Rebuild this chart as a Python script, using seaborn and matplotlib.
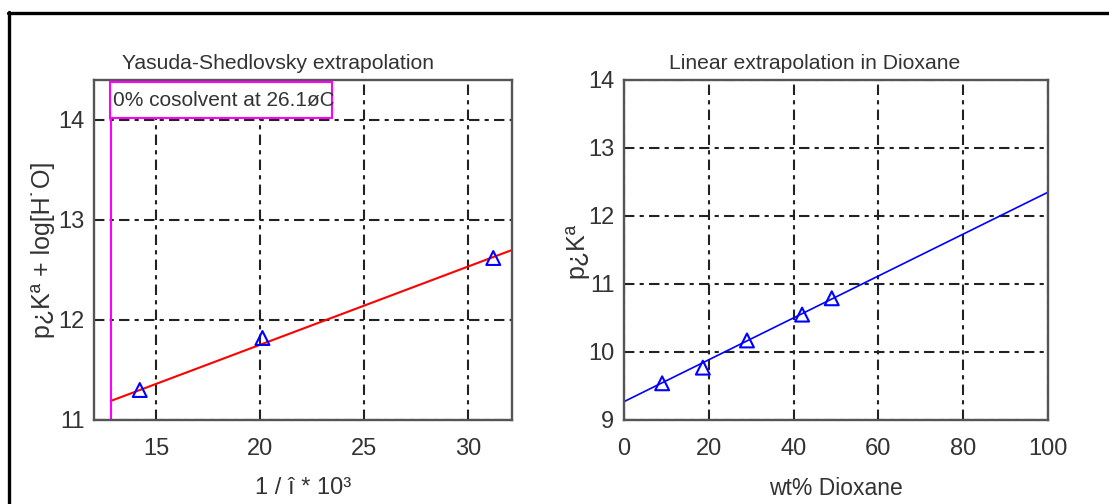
import numpy as np
import pandas as pd
import seaborn as sns
import matplotlib.pyplot as plt
from matplotlib.lines import Line2D
from matplotlib.patches import Rectangle

# data
ys_x = [14.2, 20.1, 31.2]
ys_y = [11.30, 11.82, 12.62]
ys_fit_x = [12.8, 32.1]
ys_fit_y = [11.19, 12.70]
water_inv_eps = 12.8

dx_x = [9.0, 18.6, 29.0, 42.0, 49.0]
dx_y = [9.54, 9.77, 10.17, 10.55, 10.79]
dx_fit_x = [0, 100]
dx_fit_y = [9.27, 12.35]

sns.set_style("white")
plt.rcParams['font.family'] = ['Liberation Sans', 'DejaVu Sans']
txt = "#333333"

fig = plt.figure(figsize=(11.09, 5.04), dpi=100)
ax1 = fig.add_axes([94/1109, 1-420/504, 418/1109, 340/504])
ax2 = fig.add_axes([624/1109, 1-420/504, 424/1109, 340/504])

grid_ls = (0, (5, 2.5, 2, 2.5))

def style(ax):
    for s in ax.spines.values():
        s.set_color("#555555")
        s.set_linewidth(1.7)
    ax.tick_params(direction="out", length=6, width=1.4, color="#444444",
                   labelsize=17, labelcolor=txt)
    ax.tick_params(axis="x", pad=7)
    ax.tick_params(axis="y", pad=1)
    ax.grid(True, color="#222222", linestyle=grid_ls, linewidth=1.5)
    ax.set_axisbelow(True)

# ---- left: Yasuda-Shedlovsky
sns.lineplot(x=ys_fit_x, y=ys_fit_y, ax=ax1, color="red", linewidth=1.5)
sns.scatterplot(x=ys_x, y=ys_y, ax=ax1, marker="^", s=100, facecolor="none",
                edgecolor="blue", linewidth=1.5, zorder=3)
ax1.axvline(water_inv_eps, color="magenta", linewidth=1.5)
ax1.set_xlim(12, 32.1)
ax1.set_ylim(11, 14.4)
ax1.set_xticks([15, 20, 25, 30])
ax1.set_yticks([11, 12, 13, 14])
style(ax1)
ax1.set_title("Yasuda-Shedlovsky extrapolation", x=0.44, fontsize=15.2, color=txt, pad=8)
ax1.set_xlabel("1 / î * 10³", fontsize=17, color=txt, labelpad=12)
ax1.set_ylabel("p¿Kª + log[H˙O]", fontsize=18, color=txt, labelpad=2)
# label box
ax1.add_patch(Rectangle((16/418, 302/340), 222/418, 36/340, transform=ax1.transAxes,
                        fc="white", ec="magenta", lw=1.5, zorder=4))
ax1.text(19/418, 320/340, "0% cosolvent at 26.1øC", transform=ax1.transAxes,
         fontsize=15, color=txt, va="center", ha="left", zorder=5)

# ---- right: linear extrapolation
sns.lineplot(x=dx_fit_x, y=dx_fit_y, ax=ax2, color="blue", linewidth=1.2)
sns.scatterplot(x=dx_x, y=dx_y, ax=ax2, marker="^", s=100, facecolor="none",
                edgecolor="blue", linewidth=1.5, zorder=3)
ax2.set_xlim(0, 100)
ax2.set_ylim(9, 14)
ax2.set_xticks([0, 20, 40, 60, 80, 100])
ax2.set_yticks([9, 10, 11, 12, 13, 14])
style(ax2)
ax2.set_title("Linear extrapolation in Dioxane", x=0.45, fontsize=15.2, color=txt, pad=8)
ax2.set_xlabel("wt% Dioxane", fontsize=16.5, color=txt, labelpad=12)
ax2.set_ylabel("p¿Kª", fontsize=18, color=txt, labelpad=0)

# outer frame (top and left edges)
fig.add_artist(Line2D([8/1109, 1], [1-13/504, 1-13/504], transform=fig.transFigure,
                      color="black", linewidth=2.4))
fig.add_artist(Line2D([9/1109, 9/1109], [0, 1-12/504], transform=fig.transFigure,
                      color="black", linewidth=2.4))

fig.savefig("out.png", dpi=100)
